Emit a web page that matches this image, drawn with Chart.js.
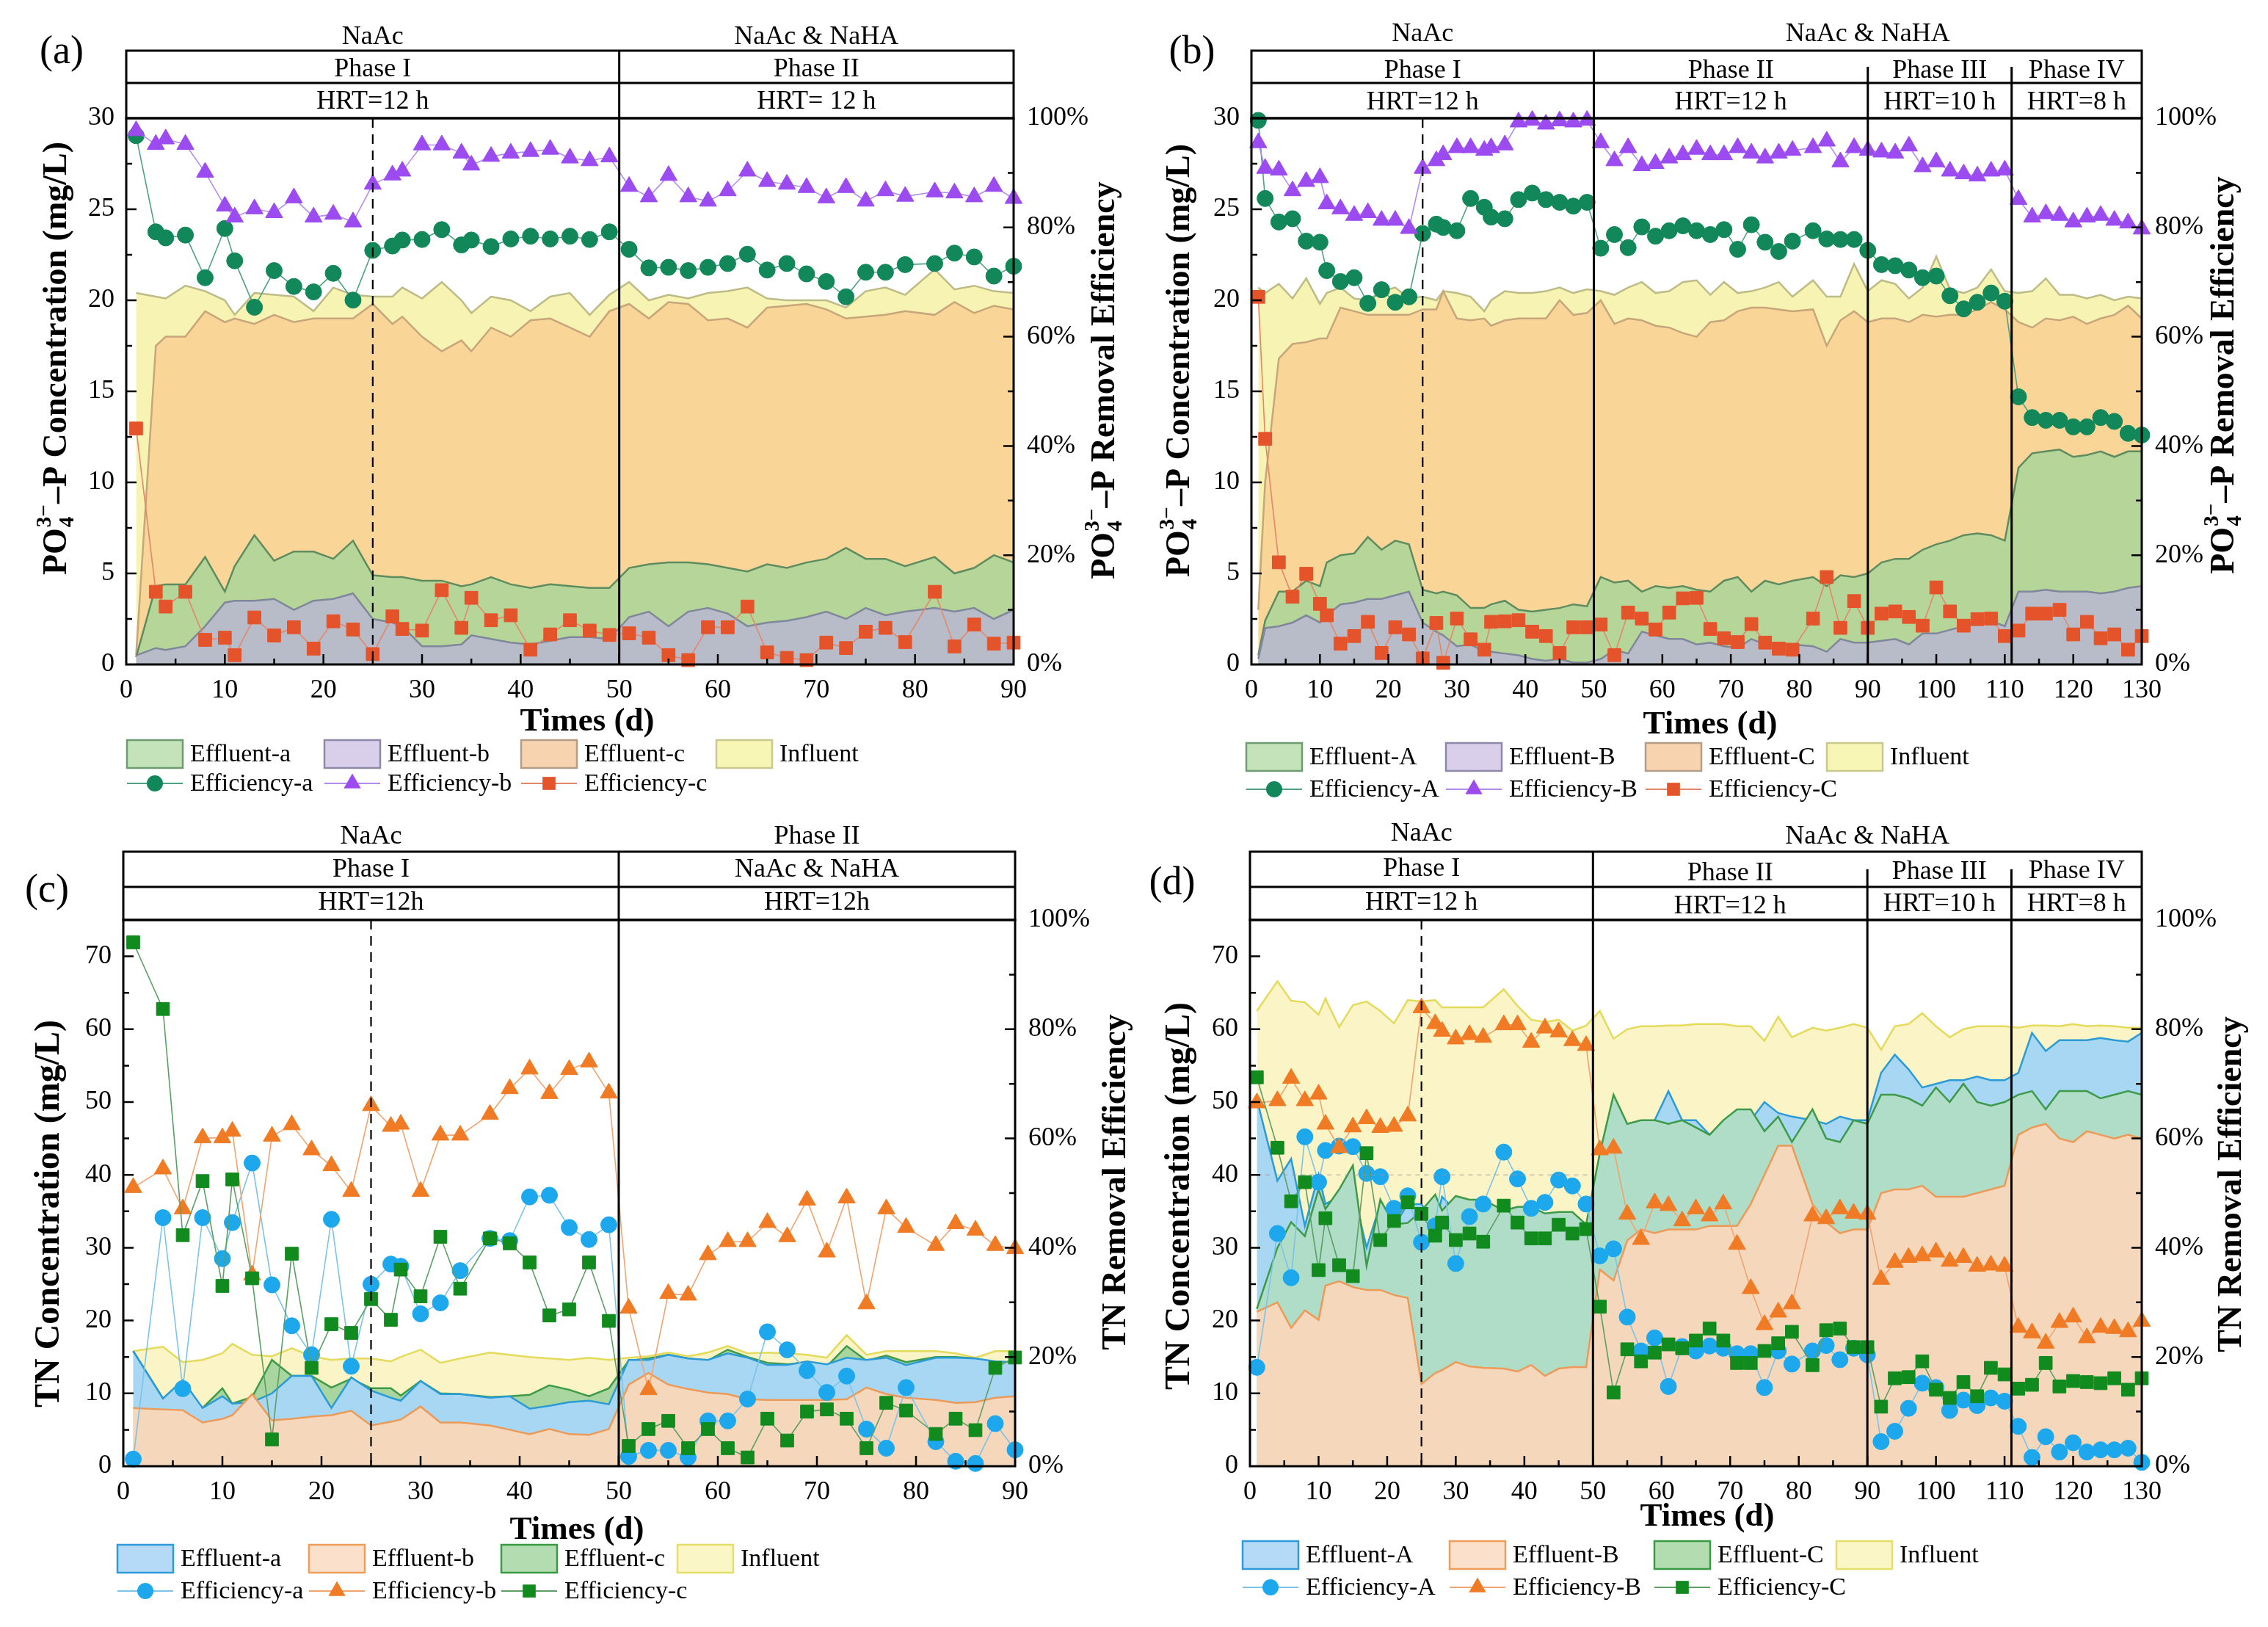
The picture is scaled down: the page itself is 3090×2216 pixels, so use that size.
<!DOCTYPE html>
<html><head><meta charset="utf-8">
<script src="https://cdn.jsdelivr.net/npm/chart.js@4.4.1/dist/chart.umd.min.js"></script>
<style>
html,body{margin:0;padding:0;background:#fff;}
#wrap{position:relative;width:3090px;height:2216px;overflow:hidden;background:#fff;}
canvas{position:absolute;}
</style></head><body><div id="wrap">
<canvas id="ca" width="1545" height="1108" style="left:0;top:0;width:1545px;height:1108px"></canvas>
<canvas id="cb" width="1545" height="1108" style="left:1545px;top:0;width:1545px;height:1108px"></canvas>
<canvas id="cc" width="1545" height="1108" style="left:0;top:1108px;width:1545px;height:1108px"></canvas>
<canvas id="cd" width="1545" height="1108" style="left:1545px;top:1108px;width:1545px;height:1108px"></canvas>
</div>
<script>
// ---------------- DATA ----------------
// Panel (a): PO4-P, 90 days
const daysA = [1,3,4,6,8,10,11,13,15,17,19,21,23,25,27,28,30,32,34,35,37,39,41,43,45,47,49,51,53,55,57,59,61,63,65,67,69,71,73,75,77,79,82,84,86,88,90];
const aInfluent  = [20.4,20.2,20.1,20.8,20.5,20.0,19.2,20.4,20.3,20.2,19.4,20.7,20.3,20.2,20.2,20.7,20.1,21.0,20.0,19.3,20.2,20.0,19.4,20.2,20.4,19.2,20.3,21.0,20.0,20.3,20.1,20.4,20.5,20.7,20.1,20.0,20.0,20.0,19.6,20.5,20.7,20.3,21.7,20.6,20.8,20.5,20.4];
const aEffluentC = [0.5,17.5,18.0,18.0,19.4,18.8,19.0,18.7,19.2,18.8,19.0,19.0,19.0,19.8,18.7,19.1,18.0,17.2,17.8,17.2,18.5,18.0,18.9,19.0,18.5,18.0,19.4,19.8,19.0,19.9,19.8,18.9,19.0,18.5,19.6,19.7,19.8,19.5,19.0,19.1,19.2,19.4,19.2,19.9,19.3,19.7,19.5];
const aEffluentA = [0.4,4.3,4.4,4.4,5.9,4.0,5.4,7.1,5.7,6.2,6.2,5.8,6.8,4.9,4.8,4.8,4.6,4.6,4.3,4.4,4.8,4.4,4.2,4.4,4.3,4.2,4.2,5.3,5.5,5.6,5.6,5.5,5.3,5.1,5.5,5.3,5.6,5.8,6.4,5.8,5.8,5.4,5.9,5.0,5.3,6.0,5.6];
const aEffluentB = [0.5,0.9,0.8,1.0,2.1,3.4,3.5,3.5,3.6,3.0,3.5,3.6,3.9,2.5,2.3,2.1,1.0,1.0,1.1,1.6,1.4,1.2,1.1,1.3,1.5,1.5,1.4,2.6,2.9,2.1,2.9,3.1,2.8,2.1,2.3,2.4,2.6,2.9,2.5,3.1,2.7,2.9,3.1,2.9,3.1,2.5,3.0];
const aEfficiencyA = [96.8,79.2,78.1,78.6,70.8,79.8,73.9,65.4,72.1,69.2,68.2,71.6,66.7,75.8,76.6,77.7,77.8,79.6,76.8,77.7,76.5,77.9,78.4,77.9,78.4,77.8,79.2,76.0,72.6,72.7,72.1,72.7,73.4,75.1,72.2,73.4,71.5,70.1,67.3,71.8,71.8,73.2,73.4,75.3,74.6,71.1,72.9];
const aEfficiencyB = [97.7,95.2,96.2,95.2,90.1,83.9,81.9,83.4,82.7,85.4,81.9,82.4,81.0,87.9,89.6,90.3,95.1,95.1,93.6,91.4,93.0,93.6,93.9,94.3,92.7,92.2,92.9,87.5,85.6,89.5,85.6,84.8,86.7,90.3,88.4,87.9,87.3,85.4,87.3,84.8,86.7,85.7,86.5,86.3,85.6,87.5,85.3];
const aEfficiencyC = [43.2,13.3,10.6,13.3,4.5,4.9,1.7,8.6,5.3,6.8,2.9,7.9,6.4,1.9,8.8,6.5,6.2,13.6,6.7,12.2,8.1,9.0,2.7,5.5,8.1,6.2,5.4,5.7,4.9,1.7,0.8,6.8,6.8,10.6,2.2,1.2,0.8,4.0,3.0,6.0,6.7,4.1,13.3,3.3,7.3,3.8,4.0];

// Panel (b): PO4-P, 130 days
const daysB = [1,2,4,6,8,10,11,13,15,17,19,21,23,25,27,28,30,32,34,35,37,39,41,43,45,47,49,51,53,55,57,59,61,63,65,67,69,71,73,75,77,79,82,84,86,88,90,92,94,96,98,100,102,104,106,108,110,112,114,116,118,120,122,124,126,128,130];
const bInfluent  = [20.7,20.4,20.9,20.1,21.2,19.8,20.4,20.7,20.1,20.0,20.5,20.7,20.1,20.2,20.0,20.5,20.4,20.2,19.4,20.0,20.5,20.4,20.4,20.5,20.7,20.4,20.6,20.5,20.3,20.7,21.0,20.4,20.5,21.0,21.1,20.3,21.0,20.4,20.5,20.7,21.0,20.2,21.1,20.2,20.2,22.0,20.5,21.1,20.9,20.1,20.7,22.4,20.6,20.4,20.7,21.7,20.5,20.4,20.5,21.2,20.3,20.3,20.1,20.3,20.0,20.2,20.1];
const bEffluentC = [3.0,10.0,16.8,17.6,17.7,17.9,17.9,19.6,19.4,19.2,19.2,19.2,19.2,19.5,19.5,20.5,19.0,18.9,19.0,18.6,18.9,19.0,19.0,19.0,20.0,19.2,19.3,20.0,18.7,19.0,18.9,18.6,18.5,18.2,18.0,18.8,18.9,19.4,19.6,19.6,19.5,19.4,19.5,17.5,18.9,19.4,18.8,19.0,19.0,18.8,19.2,19.1,19.2,19.2,19.5,19.9,19.5,18.8,18.5,19.0,18.9,19.1,18.7,19.0,19.2,19.7,19.0];
const bEffluentA = [0.5,2.4,4.0,4.0,4.6,4.3,5.6,6.0,6.1,7.0,6.3,6.8,6.6,4.1,3.9,4.0,3.8,3.1,3.1,3.3,3.5,3.0,2.9,3.0,3.1,3.3,3.2,4.8,4.5,4.6,4.0,4.3,4.2,4.3,4.1,4.0,4.6,4.8,4.0,4.6,4.4,4.6,4.8,4.3,4.9,4.8,5.0,5.6,5.8,5.8,6.3,6.6,6.8,7.1,7.2,7.1,6.8,10.8,11.6,11.7,11.8,11.4,11.5,11.7,11.4,11.7,11.7];
const bEffluentB = [0.3,2.0,2.1,2.3,2.7,2.3,2.7,3.3,3.4,3.6,3.6,3.8,4.0,2.3,1.8,1.6,1.0,1.1,0.7,0.7,0.6,0.5,0.3,0.2,0.3,0.1,0.1,0.3,0.8,0.6,1.8,1.6,1.4,1.4,1.1,1.2,1.0,0.9,1.4,1.1,1.1,1.1,1.0,0.7,1.4,1.2,1.2,1.3,1.4,1.1,1.7,1.7,1.9,2.1,2.3,2.4,2.1,4.0,4.0,4.1,4.0,4.0,4.0,3.9,4.0,4.2,4.3];
const bEfficiencyA = [99.6,85.3,81.0,81.6,77.5,77.3,72.1,70.1,70.8,66.1,68.6,66.3,67.3,78.9,80.6,80.0,79.4,85.3,83.7,81.9,81.6,85.1,86.3,85.1,84.6,83.9,84.6,76.2,78.7,76.3,80.1,78.4,79.4,80.3,79.4,78.7,79.6,76.0,80.5,77.3,75.6,77.5,79.4,77.9,77.8,77.8,75.8,73.2,73.0,72.2,70.8,71.1,67.5,65.1,66.3,68.0,66.5,49.0,45.2,44.7,44.7,43.5,43.5,45.2,44.5,42.3,42.0];
const bEfficiencyB = [95.5,90.8,90.5,86.7,88.4,89.1,84.3,83.4,82.2,82.7,81.3,81.3,79.8,90.8,92.2,93.3,94.6,94.6,94.1,94.6,95.1,99.3,99.6,98.9,99.5,99.3,99.6,95.5,92.2,94.6,91.3,91.7,92.7,93.3,94.3,93.3,93.3,94.6,93.6,92.7,93.6,94.1,94.6,95.8,92.0,94.6,94.1,93.8,93.6,94.9,91.1,92.0,90.3,89.8,89.4,90.3,90.5,85.1,81.9,82.5,82.2,81.0,81.9,82.2,81.3,80.8,79.7];
const bEfficiencyC = [67.3,41.3,18.7,12.4,16.6,11.1,9.0,3.8,5.2,7.8,2.1,6.8,5.5,1.1,7.6,0.3,8.4,4.6,2.7,7.8,7.9,8.1,6.0,5.2,2.1,6.8,6.8,7.3,1.7,9.5,8.4,6.4,9.5,12.1,12.2,6.5,4.8,4.1,7.4,4.0,2.9,2.7,8.4,16.0,6.7,11.6,6.7,9.3,9.7,8.7,7.1,14.1,9.7,7.1,8.3,8.4,5.2,6.2,9.3,9.3,10.0,5.5,7.8,4.8,5.5,2.7,5.2];

// Panel (c): TN, 90 days
const daysC = [1,4,6,8,10,11,13,15,17,19,21,23,25,27,28,30,32,34,37,39,41,43,45,47,49,51,53,55,57,59,61,63,65,67,69,71,73,75,77,79,82,84,86,88,90];
const cInfluent  = [15.8,16.4,14.3,14.6,15.5,16.8,15.3,15.1,16.2,15.1,14.6,14.8,14.8,14.4,15.0,16.0,14.2,14.8,15.6,15.3,15.0,14.8,14.6,14.9,14.6,14.9,15.1,15.6,15.1,15.6,16.5,15.5,15.6,15.5,15.3,14.9,18.0,15.3,15.8,15.8,15.8,15.5,14.9,15.8,15.8];
const cEffluentC = [15.8,9.3,11.2,8.0,10.7,8.6,9.5,14.6,12.4,12.4,10.8,12.0,10.7,10.7,9.7,11.7,10.0,9.9,9.5,9.6,9.8,11.1,10.5,9.6,10.7,14.5,14.8,15.3,14.8,14.5,16.0,15.0,14.2,14.0,14.3,13.7,16.5,14.5,15.2,14.3,15.0,15.0,14.8,14.0,13.0];
const cEffluentA = [15.8,9.3,11.8,8.0,9.6,8.6,8.8,10.0,12.4,12.4,8.0,12.2,10.4,9.4,9.0,11.7,9.9,9.9,9.4,9.6,7.9,8.3,8.8,9.0,8.5,14.6,14.6,15.3,14.8,14.6,15.5,14.9,13.9,13.9,14.4,14.0,14.9,14.6,14.9,13.9,14.9,14.9,14.8,14.4,14.3];
const cEffluentB = [8.0,7.8,7.7,6.0,6.5,7.0,9.9,6.3,6.5,6.8,7.0,7.6,5.6,6.1,6.4,8.2,6.0,6.0,5.6,5.0,4.4,5.1,4.4,4.3,5.1,11.2,12.8,11.2,10.6,10.1,9.9,9.2,9.1,9.1,9.1,9.1,9.2,10.8,9.9,9.4,9.1,8.7,8.8,9.4,9.6];
const cEfficiencyA = [1.3,45.5,14.2,45.5,38.0,44.6,55.5,33.2,25.7,20.4,45.2,18.3,33.3,37.0,36.6,27.9,29.9,35.8,41.7,41.3,49.3,49.6,43.7,41.5,44.2,1.8,2.9,2.9,1.6,8.3,8.3,12.3,24.6,21.3,17.5,13.5,16.5,6.8,3.3,14.4,4.5,0.9,0.5,7.8,3.0];
const cEfficiencyB = [51.0,54.4,47.1,60.1,60.1,61.3,35.0,60.4,62.5,57.9,55.0,50.3,66.0,62.2,62.6,50.3,60.6,60.6,64.4,69.1,72.7,68.2,72.6,74.0,68.3,28.9,14.0,31.6,31.3,38.7,41.1,41.1,44.6,42.0,48.7,39.2,49.1,29.7,47.1,43.7,40.4,44.4,43.2,40.4,39.8];
const cEfficiencyC = [95.9,83.7,42.3,52.2,33.0,52.5,34.4,4.9,38.9,18.0,26.0,24.4,30.6,26.8,36.0,31.1,42.0,32.5,41.7,40.8,37.3,27.6,28.7,37.3,26.6,3.7,6.8,8.3,3.3,6.8,3.3,1.6,8.7,4.7,10.0,10.4,8.7,3.3,11.6,10.2,5.9,8.7,6.6,18.0,19.9];

// Panel (d): TN, 130 days
const daysD = [1,4,6,8,10,11,13,15,17,19,21,23,25,27,28,30,32,34,37,39,41,43,45,47,49,51,53,55,57,59,61,63,65,67,69,71,73,75,77,79,82,84,86,88,90,92,94,96,98,100,102,104,106,108,110,112,114,116,118,120,122,124,126,128,130];
const dInfluent  = [62.5,66.6,63.9,63.7,62.0,64.2,60.3,63.3,63.8,62.5,60.8,64.0,63.8,64.0,63.0,63.0,63.0,63.0,65.5,63.2,61.3,61.0,61.3,59.8,60.5,62.5,58.7,60.0,60.4,60.4,60.5,60.5,60.7,60.7,60.7,60.4,60.4,58.4,61.7,58.9,60.2,59.8,60.2,60.7,60.2,57.2,60.4,60.7,62.2,60.4,58.9,60.0,60.4,60.4,60.4,60.2,60.5,60.5,60.4,60.7,60.4,60.5,60.4,60.2,60.2];
const dEffluentA = [50.4,39.2,42.2,33.0,40.0,36.0,37.0,38.0,30.0,36.0,33.0,36.0,36.0,33.0,37.0,35.0,36.0,35.0,28.0,31.0,30.0,31.0,30.0,30.5,31.0,33.0,38.0,45.0,47.0,47.5,51.5,47.5,47.5,45.5,47.0,48.0,47.5,50.0,48.5,48.0,47.5,47.0,48.0,47.5,47.5,54.0,56.5,54.5,52.0,52.5,53.0,53.0,53.5,53.0,53.0,54.0,59.5,57.0,58.5,58.5,58.5,58.8,58.5,58.3,59.5];
const dEffluentC = [21.6,30.0,33.5,31.6,38.0,35.3,38.0,41.3,27.5,36.6,33.2,33.4,35.1,37.3,35.1,37.1,36.6,36.6,35.1,35.6,35.6,34.7,34.9,34.9,33.2,43.0,51.0,47.0,47.5,47.5,47.0,47.5,46.5,45.5,47.5,49.0,49.0,46.0,48.0,44.5,49.0,45.0,44.5,47.5,47.0,51.0,51.0,50.5,49.5,52.0,50.0,52.5,50.0,49.5,50.0,51.0,51.5,49.0,51.5,51.5,51.5,50.5,51.0,51.5,51.0];
const dEffluentB = [21.2,22.5,19.0,21.4,20.1,24.8,25.4,24.6,24.2,24.2,23.5,23.1,11.3,12.8,13.2,14.3,13.7,13.5,13.4,13.0,13.9,12.4,13.4,13.6,13.6,27.0,25.5,31.0,32.5,32.0,32.5,32.5,32.5,33.0,33.0,33.0,36.0,40.0,44.0,44.0,36.0,33.5,32.0,32.5,32.5,37.5,38.0,38.0,38.5,37.0,37.0,37.0,37.5,38.0,38.5,45.5,46.5,47.0,45.0,44.5,46.0,45.5,45.0,45.5,45.0];
const dEfficiencyA = [18.1,42.6,34.5,60.3,52.0,57.8,58.6,58.5,53.6,53.0,47.2,49.5,41.0,44.0,53.0,37.1,45.7,48.0,57.5,52.6,47.2,48.3,52.4,51.3,48.0,38.5,39.8,27.3,21.1,23.5,14.6,21.9,21.1,22.0,21.6,20.6,20.6,14.4,21.1,18.7,21.1,22.1,19.5,21.6,20.4,4.5,6.4,10.6,15.2,14.4,10.2,12.1,11.1,12.5,11.9,7.3,1.6,5.4,2.6,4.3,2.6,3.0,3.0,3.3,0.7];
const dEfficiencyB = [66.5,66.9,71.0,66.9,68.1,62.6,58.3,62.1,63.6,62.0,62.2,64.1,83.9,81.0,79.6,78.2,79.0,78.5,80.8,80.8,77.6,80.2,79.5,77.9,77.0,57.9,58.2,46.1,41.5,48.2,47.7,44.9,47.1,45.8,48.0,40.6,32.5,25.9,28.2,29.7,45.8,45.3,47.1,46.3,46.1,34.2,37.3,38.2,38.5,39.2,37.5,38.2,36.6,36.8,36.6,25.4,24.4,22.5,26.3,27.3,23.5,25.4,25.2,24.6,26.5];
const dEfficiencyC = [71.2,58.3,48.5,52.0,35.9,45.4,36.8,34.8,57.3,41.4,44.9,48.3,46.2,42.2,44.6,41.4,42.6,41.1,47.7,44.6,41.7,41.7,44.2,42.6,43.4,29.2,13.5,21.4,19.2,20.8,22.3,21.6,23.0,25.2,23.0,18.9,18.9,21.1,22.5,24.6,18.5,24.9,25.2,21.8,21.8,10.9,16.1,16.3,19.2,14.0,12.5,15.4,12.8,18.0,16.8,14.2,14.9,18.9,14.6,15.6,15.4,15.2,16.1,14.0,16.1];

// Header / label texts
const feedTwoPhase = ['NaAc', 'NaAc & NaHA'];
const phaseTwo = ['Phase I', 'Phase II'];
const phaseFour = ['Phase I', 'Phase II', 'Phase III', 'Phase IV'];
const hrtFour = ['HRT=12 h', 'HRT=12 h', 'HRT=10 h', 'HRT=8 h'];
const legendPO4Lower = ['Effluent-a', 'Effluent-b', 'Effluent-c', 'Influent', 'Efficiency-a', 'Efficiency-b', 'Efficiency-c'];
const legendPO4Upper = ['Effluent-A', 'Effluent-B', 'Effluent-C', 'Influent', 'Efficiency-A', 'Efficiency-B', 'Efficiency-C'];

// ---------------- DRAWING ----------------
const FONT = '"Liberation Serif", "Times New Roman", serif';
const pts = (days, vals) => days.map((d, i) => ({x: d, y: vals[i]}));

function drawRich(ctx, parts, cx, cy, size, rotate) {
  const big = 'bold ' + size + 'px ' + FONT;
  const small = 'bold ' + Math.round(size * 0.62) + 'px ' + FONT;
  let total = 0;
  const widths = parts.map(p => {
    let w;
    if (p.t !== undefined) { ctx.font = big; w = ctx.measureText(p.t).width; }
    else { ctx.font = small; w = Math.max(ctx.measureText(p.sub).width, ctx.measureText(p.sup).width) + 2; }
    total += w; return w;
  });
  ctx.save();
  ctx.translate(cx, cy);
  if (rotate) ctx.rotate(-Math.PI / 2);
  ctx.textAlign = 'left'; ctx.textBaseline = 'alphabetic'; ctx.fillStyle = '#000';
  let x = -total / 2; const base = size * 0.34;
  parts.forEach((p, i) => {
    if (p.t !== undefined) { ctx.font = big; ctx.fillText(p.t, x, base); }
    else { ctx.font = small; ctx.fillText(p.sub, x + 1, base + size * 0.22); ctx.fillText(p.sup, x + 1, base - size * 0.45); }
    x += widths[i];
  });
  ctx.restore();
}

function marker(ctx, shape, x, y, r, color) {
  ctx.fillStyle = color; ctx.beginPath();
  if (shape === 'circle') { ctx.arc(x, y, r, 0, Math.PI * 2); }
  else if (shape === 'triangle') {
    ctx.moveTo(x, y - r); ctx.lineTo(x - r * 0.866, y + r * 0.5); ctx.lineTo(x + r * 0.866, y + r * 0.5); ctx.closePath();
  } else { const s = r * Math.SQRT1_2; ctx.rect(x - s, y - s, 2 * s, 2 * s); }
  ctx.fill();
}

function makeDecor(p) {
  return {
    id: 'decor' + p.id,
    afterDatasetsDraw(chart) {
      if (!p.hDash) return;
      const ctx = chart.ctx, xs = chart.scales.x, ys = chart.scales.y;
      ctx.save(); ctx.strokeStyle = 'rgba(150,150,150,0.55)'; ctx.lineWidth = 1.5; ctx.setLineDash([6, 6]);
      const Y = ys.getPixelForValue(p.hDash.y);
      ctx.beginPath(); ctx.moveTo(xs.getPixelForValue(p.hDash.x0), Y); ctx.lineTo(xs.getPixelForValue(p.hDash.x1), Y); ctx.stroke();
      ctx.restore();
    },
    afterDraw(chart) {
      const ctx = chart.ctx, ca = chart.chartArea, xs = chart.scales.x, ys = chart.scales.y, yr = chart.scales.y1;
      ctx.save();
      ctx.strokeStyle = '#000'; ctx.lineCap = 'butt';
      // dashed line at day 25
      const X25 = xs.getPixelForValue(25);
      ctx.lineWidth = 2.2; ctx.setLineDash([13, 9]);
      ctx.beginPath(); ctx.moveTo(X25, ca.top); ctx.lineTo(X25, ca.bottom); ctx.stroke();
      ctx.setLineDash([]);
      // dividers
      ctx.lineWidth = 3;
      p.dividers.forEach(d => {
        const X = xs.getPixelForValue(d.x);
        const yTop = d.full ? p.hTop : (p.hTop + p.hMid) / 2;
        ctx.beginPath(); ctx.moveTo(X, yTop); ctx.lineTo(X, ca.bottom); ctx.stroke();
      });
      // frame & header box
      ctx.strokeRect(ca.left, ca.top, ca.right - ca.left, ca.bottom - ca.top);
      ctx.strokeRect(ca.left, p.hTop, ca.right - ca.left, ca.top - p.hTop);
      ctx.beginPath(); ctx.moveTo(ca.left, p.hMid); ctx.lineTo(ca.right, p.hMid); ctx.stroke();
      // inward ticks
      ctx.lineWidth = 2.5; ctx.beginPath();
      for (let v = 5; v < p.xMax; v += 5) {
        const X = xs.getPixelForValue(v), len = v % 10 === 0 ? 14 : 8;
        ctx.moveTo(X, ca.bottom); ctx.lineTo(X, ca.bottom - len);
      }
      for (let v = p.yMinor; v < p.yMax - 0.01; v += p.yMinor) {
        const Y = ys.getPixelForValue(v);
        const major = Math.abs(v / p.yStep - Math.round(v / p.yStep)) < 1e-6;
        ctx.moveTo(ca.left, Y); ctx.lineTo(ca.left + (major ? 14 : 8), Y);
      }
      for (let v = 10; v < 100; v += 10) {
        const Y = yr.getPixelForValue(v);
        ctx.moveTo(ca.right, Y); ctx.lineTo(ca.right - (v % 20 === 0 ? 14 : 8), Y);
      }
      ctx.stroke();
      // header texts
      ctx.fillStyle = '#000'; ctx.textAlign = 'center'; ctx.textBaseline = 'middle';
      ctx.font = '36px ' + FONT;
      p.headTexts.forEach(t => {
        const cx = (xs.getPixelForValue(t.a) + xs.getPixelForValue(t.b)) / 2;
        ctx.fillText(t.t, cx, t.y);
      });
      // panel tag
      ctx.font = '54px ' + FONT;
      ctx.fillText(p.tag, p.tagX, p.tagY);
      // x title
      ctx.font = 'bold 45px ' + FONT;
      ctx.fillText('Times (d)', p.xtX, p.xtY);
      // y titles
      drawRich(ctx, p.yTitle, p.ytX, p.ytY, p.ytSize, true);
      drawRich(ctx, p.y1Title, p.y1tX, p.y1tY, 46, true);
      // legend
      const L = p.legend;
      ctx.textAlign = 'left'; ctx.textBaseline = 'middle'; ctx.font = '34px ' + FONT;
      L.boxes.forEach((b, i) => {
        const x = L.xs[i];
        ctx.fillStyle = b.fill; ctx.fillRect(x, L.y1 - 19, 76, 38);
        ctx.strokeStyle = b.border; ctx.lineWidth = 2.5; ctx.strokeRect(x, L.y1 - 19, 76, 38);
        ctx.fillStyle = '#000'; ctx.fillText(b.label, x + 86, L.y1 + 1);
      });
      L.lines.forEach((m, i) => {
        const x = L.xs[i];
        ctx.strokeStyle = m.lc; ctx.lineWidth = 2;
        ctx.beginPath(); ctx.moveTo(x, L.y2); ctx.lineTo(x + 76, L.y2); ctx.stroke();
        marker(ctx, m.shape, x + 38, L.y2, m.r, m.c);
        ctx.fillStyle = '#000'; ctx.fillText(m.label, x + 86, L.y2 + 1);
      });
      ctx.restore();
    }
  };
}

function buildPanel(p) {
  const W = 1545, H = 1108, Wl = 120, Wr = 130, Hx = 80;
  const areaDS = p.areas.map(a => ({
    label: a.label, data: pts(p.days, a.data), yAxisID: 'y', fill: 'origin',
    backgroundColor: a.bg, borderColor: a.bc, borderWidth: 2.5, pointRadius: 0,
    tension: 0, order: 10 + a.z
  }));
  const markDS = p.marks.map(m => ({
    label: m.label, data: pts(p.days, m.data), yAxisID: 'y1', fill: false,
    borderColor: m.lc, borderWidth: 1.6, pointStyle: m.shape, pointRadius: m.r,
    pointBackgroundColor: m.c, pointBorderColor: m.c, pointBorderWidth: 1,
    tension: 0, order: m.z, clip: false
  }));
  const tickFont = {family: FONT, size: 36};
  new Chart(document.getElementById(p.id), {
    type: 'line',
    data: {datasets: markDS.concat(areaDS)},
    options: {
      responsive: false, animation: false, devicePixelRatio: 1,
      layout: {padding: {left: p.L - Wl, right: W - p.R - Wr, top: p.T, bottom: H - p.B - Hx}},
      plugins: {legend: {display: false}, tooltip: {enabled: false}, title: {display: false}},
      scales: {
        x: {type: 'linear', min: 0, max: p.xMax, afterFit: s => { s.height = Hx; },
            grid: {display: false, drawTicks: false}, border: {display: false},
            ticks: {stepSize: 10, autoSkip: false, maxRotation: 0, padding: 14, color: '#000', font: tickFont}},
        y: {type: 'linear', position: 'left', min: 0, max: p.yMax, afterFit: s => { s.width = Wl; },
            grid: {display: false, drawTicks: false}, border: {display: false},
            ticks: {stepSize: p.yStep, includeBounds: false, padding: 16, color: '#000', font: tickFont}},
        y1: {type: 'linear', position: 'right', min: 0, max: 100, afterFit: s => { s.width = Wr; },
             grid: {display: false, drawTicks: false}, border: {display: false},
             ticks: {stepSize: 20, padding: 18, color: '#000', font: tickFont, callback: v => v + '%'}}
      }
    },
    plugins: [makeDecor(p)]
  });
}

const po4Left = [{t: 'PO'}, {sub: '4', sup: '3\u2212'}, {t: '\u2013P Concentration (mg/L)'}];
const po4Right = [{t: 'PO'}, {sub: '4', sup: '3\u2212'}, {t: '\u2013P Removal Efficiency'}];
const tnLeft = [{t: 'TN Concentration (mg/L)'}];
const tnRight = [{t: 'TN Removal Efficiency'}];

// colours
const P_COL = {
  inf: {bg: '#F7F3B3', bc: '#BDBB86'}, c: {bg: '#F9D598', bc: '#C7A67B'},
  a: {bg: '#B6D699', bc: '#5E8C5F'}, b: {bg: '#B8BCC8', bc: '#80879A'},
  ma: '#12875A', mal: '#4FA283', mb: '#9B4BF0', mbl: '#B48CF0', mc: '#E4532A', mcl: '#E4866A'
};
const P_LEG = [
  {fill: '#C4E3BA', border: '#6F9B70'}, {fill: '#D9CFEB', border: '#8E88A8'},
  {fill: '#F7D3B0', border: '#B59C86'}, {fill: '#F8F6B5', border: '#C9C88E'}
];
const T_LEG = [
  {fill: '#B5DAF7', border: '#2F9BDB'}, {fill: '#FBE0CC', border: '#EE9D5A'},
  {fill: '#B3DDB0', border: '#3A9A44'}, {fill: '#FBF6C6', border: '#E6DE6A'}
];
const T_MK = {a: '#1DA8EE', al: '#7CC3E8', b: '#F07B24', bl: '#F0A470', c: '#118A1E', cl: '#5C9E66'};
const MK_R = {circle: 11, triangle: 13.5, rect: 12.5};

function po4Panel(id, tag, days, series, xMax, L, R, hdr, leg, names) {
  return {
    id, tag, days, xMax, L, R, T: 161, B: 905, yMax: 30, yStep: 5, yMinor: 2.5,
    hTop: 69, hMid: 113,
    areas: [
      {label: names[3], data: series.inf, bg: P_COL.inf.bg, bc: P_COL.inf.bc, z: 4},
      {label: names[2], data: series.c, bg: P_COL.c.bg, bc: P_COL.c.bc, z: 3},
      {label: names[0], data: series.a, bg: P_COL.a.bg, bc: P_COL.a.bc, z: 2},
      {label: names[1], data: series.b, bg: P_COL.b.bg, bc: P_COL.b.bc, z: 1}
    ],
    marks: [
      {label: names[4], data: series.ea, shape: 'circle', r: MK_R.circle, c: P_COL.ma, lc: P_COL.mal, z: 3},
      {label: names[5], data: series.eb, shape: 'triangle', r: MK_R.triangle, c: P_COL.mb, lc: P_COL.mbl, z: 2},
      {label: names[6], data: series.ec, shape: 'rect', r: MK_R.rect, c: P_COL.mc, lc: P_COL.mcl, z: 1}
    ],
    yTitle: po4Left, y1Title: po4Right, ytSize: 46,
    legend: {
      xs: leg.xs, y1: leg.y1, y2: leg.y2,
      boxes: P_LEG.map((c, i) => ({fill: c.fill, border: c.border, label: names[i]})),
      lines: [
        {label: names[4], shape: 'circle', r: MK_R.circle, c: P_COL.ma, lc: P_COL.mal},
        {label: names[5], shape: 'triangle', r: MK_R.triangle, c: P_COL.mb, lc: P_COL.mbl},
        {label: names[6], shape: 'rect', r: MK_R.rect, c: P_COL.mc, lc: P_COL.mcl}
      ]
    },
    ...hdr
  };
}

// (a)
buildPanel(po4Panel('ca', '(a)', daysA,
  {inf: aInfluent, a: aEffluentA, b: aEffluentB, c: aEffluentC, ea: aEfficiencyA, eb: aEfficiencyB, ec: aEfficiencyC},
  90, 172, 1381,
  {
    dividers: [{x: 50, full: true}],
    headTexts: [
      {t: feedTwoPhase[0], a: 0, b: 50, y: 51}, {t: feedTwoPhase[1], a: 50, b: 90, y: 51},
      {t: phaseTwo[0], a: 0, b: 50, y: 95}, {t: phaseTwo[1], a: 50, b: 90, y: 95},
      {t: 'HRT=12 h', a: 0, b: 50, y: 139}, {t: 'HRT= 12 h', a: 50, b: 90, y: 139}
    ],
    tagX: 84, tagY: 72, xtX: 800, xtY: 983, ytX: 74, ytY: 488, y1tX: 1502, y1tY: 518
  },
  {xs: [173, 442, 710, 976], y1: 1027, y2: 1067}, legendPO4Lower));

// (b)
buildPanel(po4Panel('cb', '(b)', daysB,
  {inf: bInfluent, a: bEffluentA, b: bEffluentB, c: bEffluentC, ea: bEfficiencyA, eb: bEfficiencyB, ec: bEfficiencyC},
  130, 160, 1373,
  {
    dividers: [{x: 50, full: true}, {x: 90, full: false}, {x: 111, full: false}],
    headTexts: [
      {t: feedTwoPhase[0], a: 0, b: 50, y: 47}, {t: feedTwoPhase[1], a: 50, b: 130, y: 47},
      {t: phaseFour[0], a: 0, b: 50, y: 97}, {t: phaseFour[1], a: 50, b: 90, y: 97},
      {t: phaseFour[2], a: 90, b: 111, y: 97}, {t: phaseFour[3], a: 111, b: 130, y: 97},
      {t: hrtFour[0], a: 0, b: 50, y: 140}, {t: hrtFour[1], a: 50, b: 90, y: 140},
      {t: hrtFour[2], a: 90, b: 111, y: 140}, {t: hrtFour[3], a: 111, b: 130, y: 140}
    ],
    tagX: 79, tagY: 72, xtX: 785, xtY: 987, ytX: 59, ytY: 491, y1tX: 1482, y1tY: 511
  },
  {xs: [153, 425, 697, 944], y1: 1031, y2: 1075}, legendPO4Upper));

function tnPanel(id, tag, days, series, xMax, L, R, hdr, leg, names, greenBg, order) {
  return {
    id, tag, days, xMax, L, R, T: 145, B: 889, yMax: 75, yStep: 10, yMinor: 5,
    hTop: 52, hMid: 100,
    areas: [
      {label: names[3], data: series.inf, bg: '#FAF4C6', bc: '#E4DB5C', z: 4},
      {label: names[0], data: series.a, bg: '#A8D7F3', bc: '#2B9BD6', z: order.a},
      {label: names[2], data: series.c, bg: greenBg, bc: '#3C9A48', z: order.c},
      {label: names[1], data: series.b, bg: '#F5D7BC', bc: '#EC9A58', z: 1}
    ],
    marks: [
      {label: names[4], data: series.ea, shape: 'circle', r: MK_R.circle, c: T_MK.a, lc: T_MK.al, z: 3},
      {label: names[5], data: series.eb, shape: 'triangle', r: MK_R.triangle, c: T_MK.b, lc: T_MK.bl, z: 2},
      {label: names[6], data: series.ec, shape: 'rect', r: MK_R.rect, c: T_MK.c, lc: T_MK.cl, z: 1}
    ],
    yTitle: tnLeft, y1Title: tnRight, ytSize: 48,
    legend: {
      xs: leg.xs, y1: leg.y1, y2: leg.y2,
      boxes: T_LEG.map((c, i) => ({fill: c.fill, border: c.border, label: names[i]})),
      lines: [
        {label: names[4], shape: 'circle', r: MK_R.circle, c: T_MK.a, lc: T_MK.al},
        {label: names[5], shape: 'triangle', r: MK_R.triangle, c: T_MK.b, lc: T_MK.bl},
        {label: names[6], shape: 'rect', r: MK_R.rect, c: T_MK.c, lc: T_MK.cl}
      ]
    },
    ...hdr
  };
}

// (c)
buildPanel(tnPanel('cc', '(c)', daysC,
  {inf: cInfluent, a: cEffluentA, b: cEffluentB, c: cEffluentC, ea: cEfficiencyA, eb: cEfficiencyB, ec: cEfficiencyC},
  90, 168, 1383,
  {
    dividers: [{x: 50, full: true}],
    headTexts: [
      {t: 'NaAc', a: 0, b: 50, y: 32}, {t: 'Phase II', a: 50, b: 90, y: 32},
      {t: 'Phase I', a: 0, b: 50, y: 77}, {t: 'NaAc & NaHA', a: 50, b: 90, y: 77},
      {t: 'HRT=12h', a: 0, b: 50, y: 122}, {t: 'HRT=12h', a: 50, b: 90, y: 122}
    ],
    tagX: 64, tagY: 106, xtX: 786, xtY: 976, ytX: 64, ytY: 545, y1tX: 1517, y1tY: 502
  },
  {xs: [160, 421, 683, 923], y1: 1015, y2: 1059}, legendPO4Lower, '#A9D59E', {a: 2, c: 3}));

// (d)
const dPanel = tnPanel('cd', '(d)', daysD,
  {inf: dInfluent, a: dEffluentA, b: dEffluentB, c: dEffluentC, ea: dEfficiencyA, eb: dEfficiencyB, ec: dEfficiencyC},
  130, 158, 1373,
  {
    dividers: [{x: 50, full: true}, {x: 90, full: false}, {x: 111, full: false}],
    headTexts: [
      {t: 'NaAc', a: 0, b: 50, y: 28}, {t: 'NaAc & NaHA', a: 50, b: 130, y: 32},
      {t: phaseFour[0], a: 0, b: 50, y: 76}, {t: phaseFour[1], a: 50, b: 90, y: 82},
      {t: phaseFour[2], a: 90, b: 111, y: 80}, {t: phaseFour[3], a: 111, b: 130, y: 79},
      {t: hrtFour[0], a: 0, b: 50, y: 122}, {t: hrtFour[1], a: 50, b: 90, y: 127},
      {t: hrtFour[2], a: 90, b: 111, y: 124}, {t: hrtFour[3], a: 111, b: 130, y: 124}
    ],
    tagX: 52, tagY: 96, xtX: 781, xtY: 958, ytX: 59, ytY: 521, y1tX: 1492, y1tY: 505
  },
  {xs: [148, 430, 709, 957], y1: 1010, y2: 1054}, legendPO4Upper, '#B0DDC8', {a: 3, c: 2});
dPanel.hDash = {y: 40, x0: 1, x1: 50};
buildPanel(dPanel);
</script>
</body></html>
